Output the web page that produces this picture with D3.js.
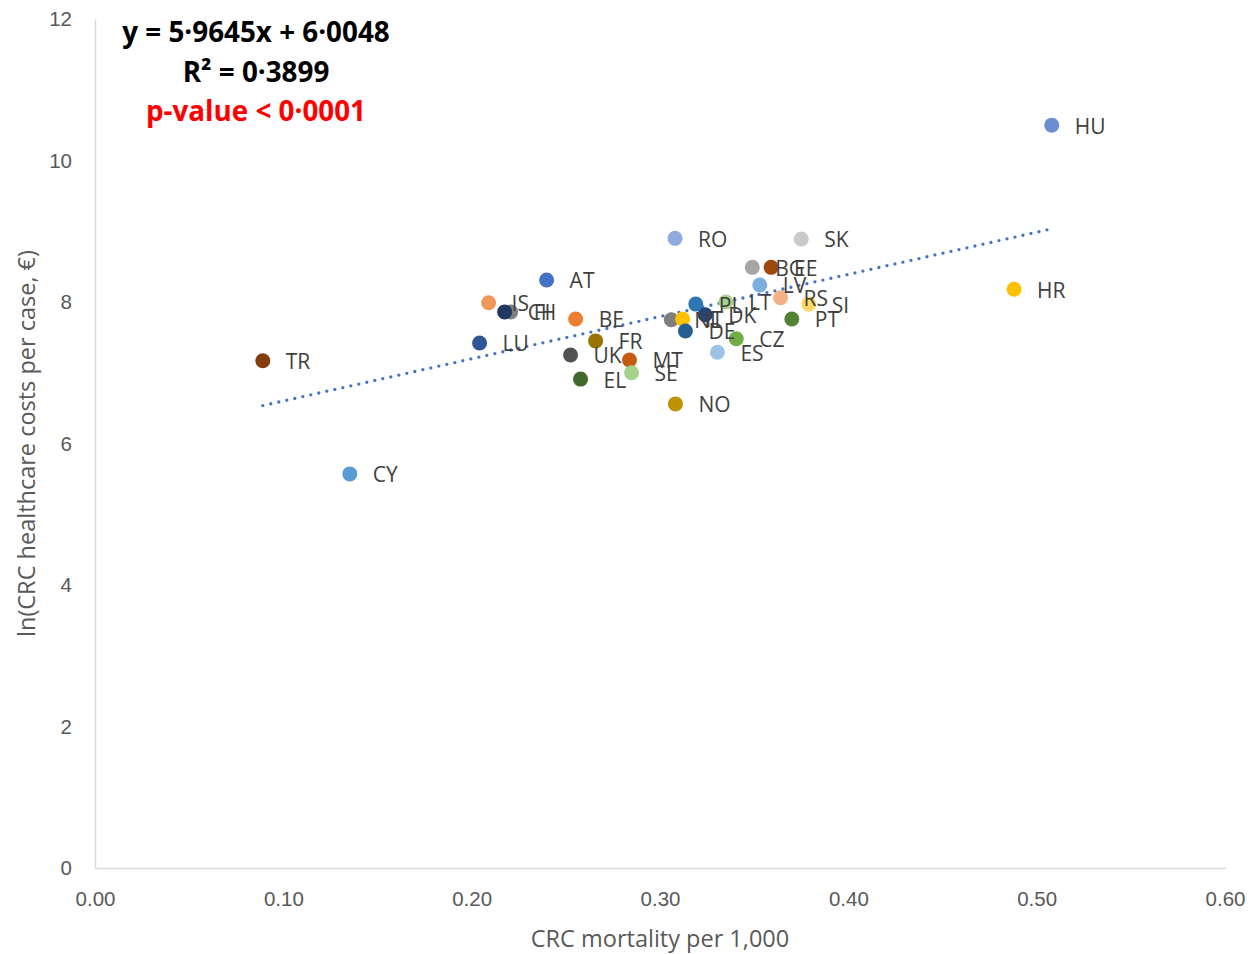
<!DOCTYPE html>
<html>
<head>
<meta charset="utf-8">
<script src="https://cdn.jsdelivr.net/npm/d3@7"></script>
<style>
  body { margin: 0; background: #fff; }
  svg { font-family: "Open Sans", Lato, sans-serif; }
</style>
</head>
<body>
<svg id="chart"></svg>
<script>
// data
const countries = ['HU','HR','SK','RO','BG','EE','LV','RS','SI','PT','PL','LT','NL','IT','DK','DE','CZ','ES',
  'MT','SE','FR','UK','EL','BE','NO','AT','IS','FI','CH','LU','TR','CY'];
const mortality = [0.508,0.488,0.375,0.308,0.349,0.359,0.353,0.364,0.379,0.370,0.319,0.335,0.306,0.312,0.324,0.3135,0.3405,0.3305,
  0.2838,0.2849,0.2658,0.2525,0.2578,0.2552,0.3082,0.2398,0.209,0.2207,0.2175,0.2042,0.0891,0.1353];
const lnCost = [10.50,8.18,8.89,8.90,8.49,8.49,8.24,8.06,7.97,7.76,7.97,8.00,7.75,7.76,7.82,7.59,7.48,7.29,
  7.18,7.00,7.45,7.25,6.91,7.76,6.56,8.31,7.99,7.86,7.86,7.42,7.17,5.57];
const xTicks = [0, 0.1, 0.2, 0.3, 0.4, 0.5, 0.6];
const yTicks = [0, 2, 4, 6, 8, 10, 12];
const slope = 5.9645, intercept = 6.0048;
const statLines = ['y = 5·9645x + 6·0048', 'R² = 0·3899', 'p-value < 0·0001'];

const pointColors = {
  HU:'#6a8ed0', HR:'#ffc000', SK:'#c9c9c9', RO:'#8faadc', BG:'#a5a5a5', EE:'#9e480e', LV:'#7cafdd',
  RS:'#f4b183', SI:'#ffd966', PT:'#548235', PL:'#2e75b6', LT:'#a9d18e', NL:'#7f7f7f', IT:'#ffc000',
  DK:'#264478', DE:'#255e91', CZ:'#70ad47', ES:'#9dc3e6', MT:'#c55a11', SE:'#a9d18e', FR:'#997300',
  UK:'#525252', EL:'#43682b', BE:'#ed7d31', NO:'#bf9000', AT:'#4472c4', IS:'#f1975a', FI:'#7f7f7f',
  CH:'#203864', LU:'#2f5597', TR:'#843c0c', CY:'#5b9bd5'
};

const W = 1251, H = 954;
const margin = {top: 19, right: 26, bottom: 86, left: 95};
const width = W - margin.left - margin.right;
const height = H - margin.top - margin.bottom;

const svg = d3.select('#chart')
  .attr('width', W)
  .attr('height', H);

const g = svg.append('g')
  .attr('transform', `translate(${margin.left}, ${margin.top})`);

const x = d3.scaleLinear().domain([0, 0.6]).range([0, width]);
const y = d3.scaleLinear().domain([0, 12]).range([height, 0]);

// axes (no tick marks, light grey lines)
const xAxis = g.append('g')
  .attr('transform', `translate(0, ${height})`)
  .call(d3.axisBottom(x).tickValues(xTicks).tickFormat(d3.format('.2f')).tickSize(0).tickPadding(23));
const yAxis = g.append('g')
  .call(d3.axisLeft(y).tickValues(yTicks).tickSize(0).tickPadding(23));

[xAxis, yAxis].forEach(a => {
  a.select('.domain').attr('stroke', '#d9d9d9').attr('stroke-width', 1.5);
  a.selectAll('text').attr('fill', '#595959').style('font-size', '20.5px').style('font-family', null);
});

// axis titles
g.append('text')
  .attr('x', width / 2)
  .attr('y', height + 79)
  .attr('text-anchor', 'middle')
  .attr('fill', '#595959')
  .style('font-size', '23.5px')
  .text('CRC mortality per 1,000');

g.append('text')
  .attr('transform', `translate(${27 - margin.left}, ${height / 2}) rotate(-90)`)
  .attr('text-anchor', 'middle')
  .attr('dy', '0.35em')
  .attr('fill', '#595959')
  .style('font-size', '23.5px')
  .text('ln(CRC healthcare costs per case, €)');

// trend line
const xMin = d3.min(mortality), xMax = d3.max(mortality);
g.append('line')
  .attr('x1', x(xMin)).attr('y1', y(slope * xMin + intercept))
  .attr('x2', x(xMax)).attr('y2', y(slope * xMax + intercept))
  .attr('stroke', '#4472c4')
  .attr('stroke-width', 3.3)
  .attr('stroke-linecap', 'round')
  .attr('stroke-dasharray', '0 8.2');

const points = countries.map((c, i) => ({name: c, x: mortality[i], y: lnCost[i]}));

g.selectAll('.dot')
  .data(points)
  .enter()
  .append('circle')
  .attr('class', 'dot')
  .attr('cx', d => x(d.x))
  .attr('cy', d => y(d.y))
  .attr('r', 7.5)
  .attr('fill', d => pointColors[d.name]);

g.selectAll('.lbl')
  .data(points)
  .enter()
  .append('text')
  .attr('class', 'lbl')
  .attr('x', d => x(d.x) + 23)
  .attr('y', d => y(d.y))
  .attr('dy', '0.4em')
  .attr('fill', '#404040')
  .style('font-size', '21px')
  .text(d => d.name);

// regression stats
g.selectAll('.stat')
  .data(statLines)
  .enter()
  .append('text')
  .attr('class', 'stat')
  .attr('x', 256 - margin.left)
  .attr('y', (d, i) => 42 + i * 39.5 - margin.top)
  .attr('text-anchor', 'middle')
  .attr('fill', (d, i) => i === 2 ? '#ff0000' : '#000')
  .style('font-size', '27.8px')
  .style('font-weight', 'bold')
  .text(d => d);
</script>
</body>
</html>
